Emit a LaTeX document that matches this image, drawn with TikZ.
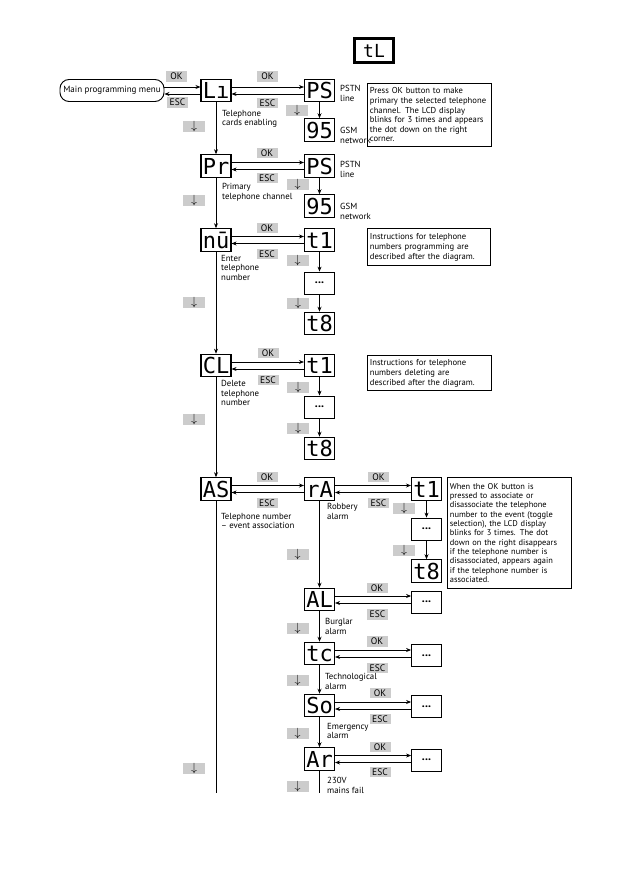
\documentclass[tikz,border=0pt]{standalone}
\usepackage{fontspec}
\setmainfont{PT Sans}
\newfontfamily\dispfont{DejaVu Sans Mono}
\usetikzlibrary{arrows.meta}
\definecolor{lblgrey}{RGB}{204,204,204}
\begin{document}
\begin{tikzpicture}[x=1pt,y=-1pt,
  disp/.style={draw, line width=1.1pt, minimum width=30pt, minimum height=22.5pt, inner sep=0pt, font=\dispfont\fontsize{22}{22}\selectfont},
  dotbox/.style={draw, line width=0.8pt, minimum width=30pt, minimum height=22pt, inner sep=0pt, font=\bfseries\fontsize{12}{12}\selectfont},
  lbl/.style={fill=lblgrey, minimum width=21pt, minimum height=10.5pt, inner sep=0pt, font=\fontsize{9.5}{9.5}\selectfont},
  dn/.style={fill=lblgrey, minimum width=22pt, minimum height=11pt, inner sep=0pt, font=\fontsize{12}{12}\selectfont},
  capt/.style={anchor=north west, inner sep=0pt, align=left, font=\fontsize{8.8}{9.6}\selectfont},
  note/.style={draw, line width=0.8pt, anchor=north west, inner xsep=2.5pt, inner ysep=0pt, align=left},
  arr/.style={-{Stealth[length=5pt,width=4pt]}, line width=0.7pt},
  ln/.style={line width=0.7pt}
]
\useasboundingbox[fill=white] (0,0) rectangle (630,893);

% title
\node[draw, line width=3pt, minimum width=39pt, minimum height=24pt, inner sep=0pt,
      font=\dispfont\fontsize{18}{18}\selectfont] (title) at (374,50.5) {tL};

% main menu
\node[draw, line width=0.9pt, rounded corners=9pt, minimum width=104pt, minimum height=22pt,
      inner sep=0pt, font=\fontsize{9}{9}\selectfont] (menu) at (112,90.5) {Main programming menu};

% ---------- displays ----------
\node[disp] (Li)  at (216,90.5)  {Lı};
\node[disp] (PSa) at (319.5,90.5) {PS};
\node[disp] (Na)  at (319.5,130) {95};

\node[disp] (Pr)  at (216,166) {Pr};
\node[disp] (PSb) at (319.5,166) {PS};
\node[disp] (Nb)  at (319.5,206) {95};

\node[disp] (nu)  at (216,240) {nū};
\node[disp] (tAa) at (319.5,240) {t1};
\node[dotbox] (dA) at (319.5,283) {...};
\node[disp] (tBa) at (319.5,323.5) {t8};

\node[disp] (CL)  at (216,365.5) {CL};
\node[disp] (tAb) at (319.5,365.5) {t1};
\node[dotbox] (dB) at (319.5,407) {...};
\node[disp] (tBb) at (319.5,448.5) {t8};

\node[disp] (AS)  at (216,489) {AS};
\node[disp] (rA)  at (319.5,489) {rA};
\node[disp] (tAc) at (426.5,489) {t1};
\node[dotbox] (dC) at (426.5,529) {...};
\node[disp] (tBc) at (426.5,571) {t8};

\node[disp] (AL)  at (319.5,599.5) {AL};
\node[dotbox] (dAL) at (426.5,602) {...};
\node[disp] (tc)  at (319.5,653.5) {tc};
\node[dotbox] (dtc) at (426.5,655.5) {...};
\node[disp] (So)  at (319.5,705.5) {So};
\node[dotbox] (dSo) at (426.5,706.5) {...};
\node[disp] (Ar)  at (319.5,759) {Ar};
\node[dotbox] (dAr) at (426.5,760) {...};

\coordinate (endM) at (216,793);
\coordinate (endR) at (319.5,793);

% ---------- OK / ESC labels ----------
\node[lbl] (ok1) at (176.5,76.5) {OK};   \node[lbl] (esc1) at (177.5,102.5) {ESC};
\node[lbl] (ok2) at (267.5,76.5) {OK};   \node[lbl] (esc2) at (267.5,103) {ESC};
\node[lbl] (ok3) at (267,153) {OK};      \node[lbl] (esc3) at (267,178) {ESC};
\node[lbl] (ok4) at (267,228) {OK};      \node[lbl] (esc4) at (267,254) {ESC};
\node[lbl] (ok5) at (268,353) {OK};      \node[lbl] (esc5) at (268,380) {ESC};
\node[lbl] (ok6) at (267,477) {OK};      \node[lbl] (esc6) at (267,503) {ESC};
\node[lbl] (ok7) at (378.5,477) {OK};    \node[lbl] (esc7) at (378.5,503) {ESC};
\node[lbl] (ok8) at (377,588) {OK};      \node[lbl] (esc8) at (377.5,614.5) {ESC};
\node[lbl] (ok9) at (377,641.5) {OK};    \node[lbl] (esc9) at (377.5,668) {ESC};
\node[lbl] (ok10) at (380,693) {OK};     \node[lbl] (esc10) at (380,719) {ESC};
\node[lbl] (ok11) at (380,747) {OK};     \node[lbl] (esc11) at (380,772) {ESC};

% ---------- down labels ----------
\node[dn] (dn1) at (194,126.5) {$\downarrow$};
\node[dn] (dn2) at (194,200.5) {$\downarrow$};
\node[dn] (dn3) at (194,302) {$\downarrow$};
\node[dn] (dn4) at (194,419.5) {$\downarrow$};
\node[dn] (dn5) at (194,768.5) {$\downarrow$};
\node[dn] (dn6) at (297,111) {$\downarrow$};
\node[dn] (dn7) at (297.5,185) {$\downarrow$};
\node[dn] (dn8) at (297.5,260.5) {$\downarrow$};
\node[dn] (dn9) at (298,303) {$\downarrow$};
\node[dn] (dn10) at (298,387) {$\downarrow$};
\node[dn] (dn11) at (298,428) {$\downarrow$};
\node[dn] (dn12) at (404,508) {$\downarrow$};
\node[dn] (dn13) at (404,550) {$\downarrow$};
\node[dn] (dn14) at (297.5,554) {$\downarrow$};
\node[dn] (dn15) at (297.5,628) {$\downarrow$};
\node[dn] (dn16) at (297.5,680.5) {$\downarrow$};
\node[dn] (dn17) at (297.5,733.5) {$\downarrow$};
\node[dn] (dn18) at (297.5,786.5) {$\downarrow$};

% ---------- captions ----------
\node[capt] (c1) at (222,110) {Telephone\\cards enabling};
\node[capt] (c2) at (222,183) {Primary\\telephone channel};
\node[capt] (c3) at (221,255) {Enter\\telephone\\number};
\node[capt] (c4) at (221,380) {Delete\\telephone\\number};
\node[capt] (c5) at (221,513) {Telephone number\\– event association};
\node[capt] (c6) at (327,503) {Robbery\\alarm};
\node[capt] (c7) at (325,618) {Burglar\\alarm};
\node[capt] (c8) at (325,673) {Technological\\alarm};
\node[capt] (c9) at (327,723) {Emergency\\alarm};
\node[capt] (c10) at (327,777) {230V\\mains fail};
\node[capt] (p1) at (340,85) {PSTN\\line};
\node[capt] (g1) at (340,127) {GSM\\network};
\node[capt] (p2) at (340,161) {PSTN\\line};
\node[capt] (g2) at (340,203) {GSM\\network};

% ---------- notes ----------
\node[note, text width=119pt, minimum height=63pt, font=\fontsize{8.6}{9.6}\selectfont] (n1) at (367,83)
 {Press OK button to make\\primary the selected telephone\\channel. The LCD display\\blinks for 3 times and appears\\the dot down on the right\\corner.};
\node[note, text width=118pt, minimum height=37pt, font=\fontsize{8.6}{10}\selectfont] (n2) at (367,228)
 {Instructions for telephone\\numbers programming are\\described after the diagram.};
\node[note, text width=119pt, minimum height=35pt, font=\fontsize{8.6}{10}\selectfont] (n3) at (367,355)
 {Instructions for telephone\\numbers deleting are\\described after the diagram.};
\node[note, text width=119pt, minimum height=111pt, font=\fontsize{8.4}{9.3}\selectfont] (n4) at (447,477)
 {When the OK button is\\pressed to associate or\\disassociate the telephone\\number to the event (toggle\\selection), the LCD display\\blinks for 3 times. The dot\\down on the right disappears\\if the telephone number is\\disassociated, appears again\\if the telephone number is\\associated.};

% ---------- horizontal OK / ESC arrows ----------
\draw[arr] ([yshift=3.5pt]menu.east) -- ([yshift=3.5pt]Li.west);
\draw[arr] ([yshift=-3.5pt]Li.west) -- ([yshift=-3.5pt]menu.east);
\foreach \a/\b in {Li/PSa, Pr/PSb, nu/tAa, CL/tAb, AS/rA, rA/tAc, AL/dAL, tc/dtc, So/dSo, Ar/dAr}{
  \draw[arr] ([yshift=3.5pt]\a.east) -- ([yshift=3.5pt]\a.east -| \b.west);
  \draw[arr] ([yshift=-3.5pt]\a.east -| \b.west) -- ([yshift=-3.5pt]\a.east);
}

% ---------- vertical arrows ----------
\draw[arr] (Li) -- (Pr);
\draw[arr] (Pr) -- (nu);
\draw[arr] (nu) -- (CL);
\draw[arr] (CL) -- (AS);
\draw[ln] (AS.south) -- (endM);
\draw[arr] (PSa) -- (Na);
\draw[arr] (PSb) -- (Nb);
\draw[arr] (tAa) -- (dA);
\draw[arr] (dA) -- (tBa);
\draw[arr] (tAb) -- (dB);
\draw[arr] (dB) -- (tBb);
\draw[arr] (tAc) -- (dC);
\draw[arr] (dC) -- (tBc);
\draw[arr] (rA) -- (AL);
\draw[arr] (AL) -- (tc);
\draw[arr] (tc) -- (So);
\draw[arr] (So) -- (Ar);
\draw[ln] (Ar.south) -- (endR);
\end{tikzpicture}
\end{document}
